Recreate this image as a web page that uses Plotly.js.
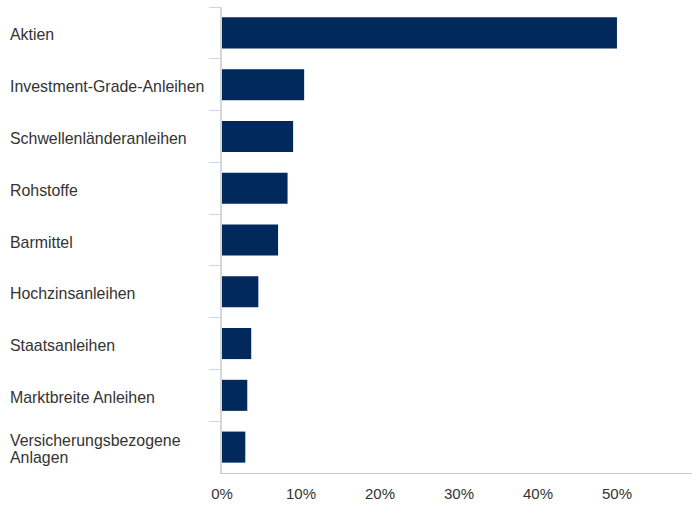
<!DOCTYPE html>
<html>
<head>
<meta charset="utf-8">
<script src="https://cdn.plot.ly/plotly-3.0.1.min.js"></script>
<style>html,body{margin:0;padding:0;background:#fff;}#chart{width:692px;height:507px;}</style>
</head>
<body>
<div id="chart"></div>
<script>
const categories = [
  "Aktien",
  "Investment-Grade-Anleihen",
  "Schwellenländeranleihen",
  "Rohstoffe",
  "Barmittel",
  "Hochzinsanleihen",
  "Staatsanleihen",
  "Marktbreite Anleihen",
  "Versicherungsbezogene<br>Anlagen"
];
const values = [50.0, 10.4, 9.0, 8.3, 7.1, 4.6, 3.7, 3.2, 2.95];
const xTickVals = [0, 10, 20, 30, 40, 50];
const xTickText = ["0%", "10%", "20%", "30%", "40%", "50%"];

const W = 692, H = 507;
const mL = 222, mR = 0, mT = 7, mB = 34;
const plotW = W - mL - mR;
const labelX = (8 - mL) / plotW;
const FONT = "Liberation Sans, Arial, sans-serif";
const LINE_H = 17.5;

const trace = {
  type: "bar",
  orientation: "h",
  x: values,
  y: categories,
  marker: { color: "#01295b" },
  width: 0.6,
  hoverinfo: "none"
};

const annotations = [];
categories.forEach(c => {
  const lines = c.split("<br>");
  lines.forEach((ln, i) => {
    annotations.push({
      xref: "paper", yref: "y",
      x: labelX, y: c,
      xanchor: "left", yanchor: "middle",
      align: "left",
      text: ln,
      yshift: ((lines.length - 1) / 2 - i) * LINE_H - 2,
      showarrow: false,
      font: { family: FONT, size: 15.9, color: "#333333" }
    });
  });
});

const layout = {
  width: W, height: H,
  margin: { l: mL, r: mR, t: mT, b: mB },
  paper_bgcolor: "#ffffff",
  plot_bgcolor: "#ffffff",
  showlegend: false,
  font: { family: FONT, size: 15, color: "#333333" },
  xaxis: {
    range: [0, 59.5],
    tickvals: xTickVals,
    ticktext: xTickText,
    showgrid: false,
    zeroline: false,
    showline: true,
    linecolor: "#cccccc",
    linewidth: 1,
    ticks: "",
    ticklabelstandoff: 7,
    tickfont: { family: FONT, size: 15, color: "#333333" },
    fixedrange: true
  },
  yaxis: {
    type: "category",
    autorange: "reversed",
    showticklabels: false,
    showgrid: false,
    zeroline: false,
    showline: true,
    linecolor: "#d6d6d6",
    linewidth: 2,
    ticks: "outside",
    tickson: "boundaries",
    ticklen: 11,
    tickcolor: "#ccd6eb",
    tickwidth: 1,
    fixedrange: true
  },
  annotations: annotations
};

Plotly.newPlot("chart", [trace], layout, { displayModeBar: false, staticPlot: true });
</script>
</body>
</html>
